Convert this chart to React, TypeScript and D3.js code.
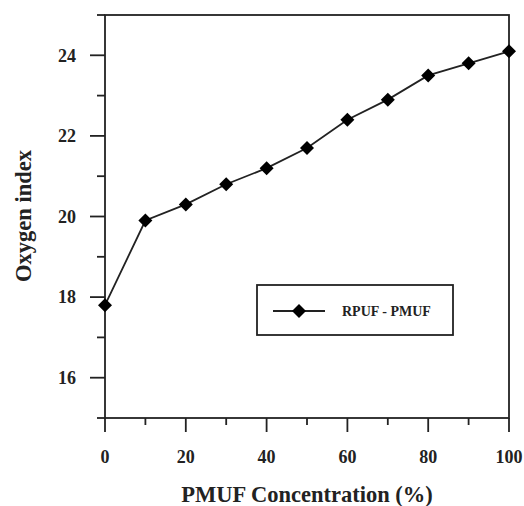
import React from "react";
import * as d3 from "d3";

const concentrations = [0, 10, 20, 30, 40, 50, 60, 70, 80, 90, 100];
const oxygenIndex = [17.8, 19.9, 20.3, 20.8, 21.2, 21.7, 22.4, 22.9, 23.5, 23.8, 24.1];
const xMajorTicks = [0, 20, 40, 60, 80, 100];
const xMinorTicks = [10, 30, 50, 70, 90];
const yMajorTicks = [16, 18, 20, 22, 24];
const yMinorTicks = [15, 17, 19, 21, 23, 25];
const seriesName = "RPUF - PMUF";
const xTitle = "PMUF Concentration (%)";
const yTitle = "Oxygen index";

const W = 524, H = 506;
const L = 105, R = 509, T = 15, B = 418;
const font = "'Liberation Serif', 'Times New Roman', serif";
const ink = "#222";

function diamond(cx: number, cy: number, r: number) {
  return `M${cx},${cy - r}L${cx + r},${cy}L${cx},${cy + r}L${cx - r},${cy}Z`;
}

export default function App() {
  const x = d3.scaleLinear().domain([0, 100]).range([L, R]);
  const y = d3.scaleLinear().domain([15, 25]).range([B, T]);
  const line = d3.line<number>().x((_, i) => x(concentrations[i])).y((d) => y(d));

  return (
    <svg width={W} height={H} style={{ position: "absolute", left: 0, top: 0, background: "#fff" }}>
      {/* frame */}
      <rect x={L} y={T} width={R - L} height={B - T} fill="none" stroke={ink} strokeWidth={1.8} />
      {/* y ticks */}
      {yMajorTicks.map((t) => (
        <g key={"ym" + t}>
          <line x1={L - 15} x2={L} y1={y(t)} y2={y(t)} stroke={ink} strokeWidth={1.8} />
          <text x={76} y={y(t)} dy="0.35em" textAnchor="end" fontFamily={font} fontWeight="bold" fontSize={18} fill={ink}>
            {t}
          </text>
        </g>
      ))}
      {yMinorTicks.map((t) => (
        <line key={"yn" + t} x1={L - 8} x2={L} y1={y(t)} y2={y(t)} stroke={ink} strokeWidth={1.8} />
      ))}
      {/* x ticks */}
      {xMajorTicks.map((t) => (
        <g key={"xm" + t}>
          <line x1={x(t)} x2={x(t)} y1={B} y2={B + 14} stroke={ink} strokeWidth={1.8} />
          <text x={x(t)} y={457} dy="0.35em" textAnchor="middle" fontFamily={font} fontWeight="bold" fontSize={18} fill={ink}>
            {t}
          </text>
        </g>
      ))}
      {xMinorTicks.map((t) => (
        <line key={"xn" + t} x1={x(t)} x2={x(t)} y1={B} y2={B + 7} stroke={ink} strokeWidth={1.8} />
      ))}
      {/* titles */}
      <text x={307} y={494} dy="0.35em" textAnchor="middle" fontFamily={font} fontWeight="bold" fontSize={22.5} fill={ink}>
        {xTitle}
      </text>
      <text
        transform={`translate(23,216) rotate(-90)`}
        dy="0.35em"
        textAnchor="middle"
        fontFamily={font}
        fontWeight="bold"
        fontSize={22.5}
        fill={ink}
      >
        {yTitle}
      </text>
      {/* series */}
      <path d={line(oxygenIndex) || ""} fill="none" stroke={ink} strokeWidth={1.8} />
      {oxygenIndex.map((v, i) => (
        <path key={i} d={diamond(x(concentrations[i]), y(v), 7)} fill="#000" />
      ))}
      {/* legend */}
      <rect x={257} y={285} width={196} height={50} fill="#fff" stroke={ink} strokeWidth={1.8} />
      <line x1={273} x2={325} y1={311} y2={311} stroke={ink} strokeWidth={1.8} />
      <path d={diamond(299, 311, 7)} fill="#000" />
      <text x={342} y={311} dy="0.35em" fontFamily={font} fontWeight="bold" fontSize={14} fill={ink}>
        {seriesName}
      </text>
    </svg>
  );
}
